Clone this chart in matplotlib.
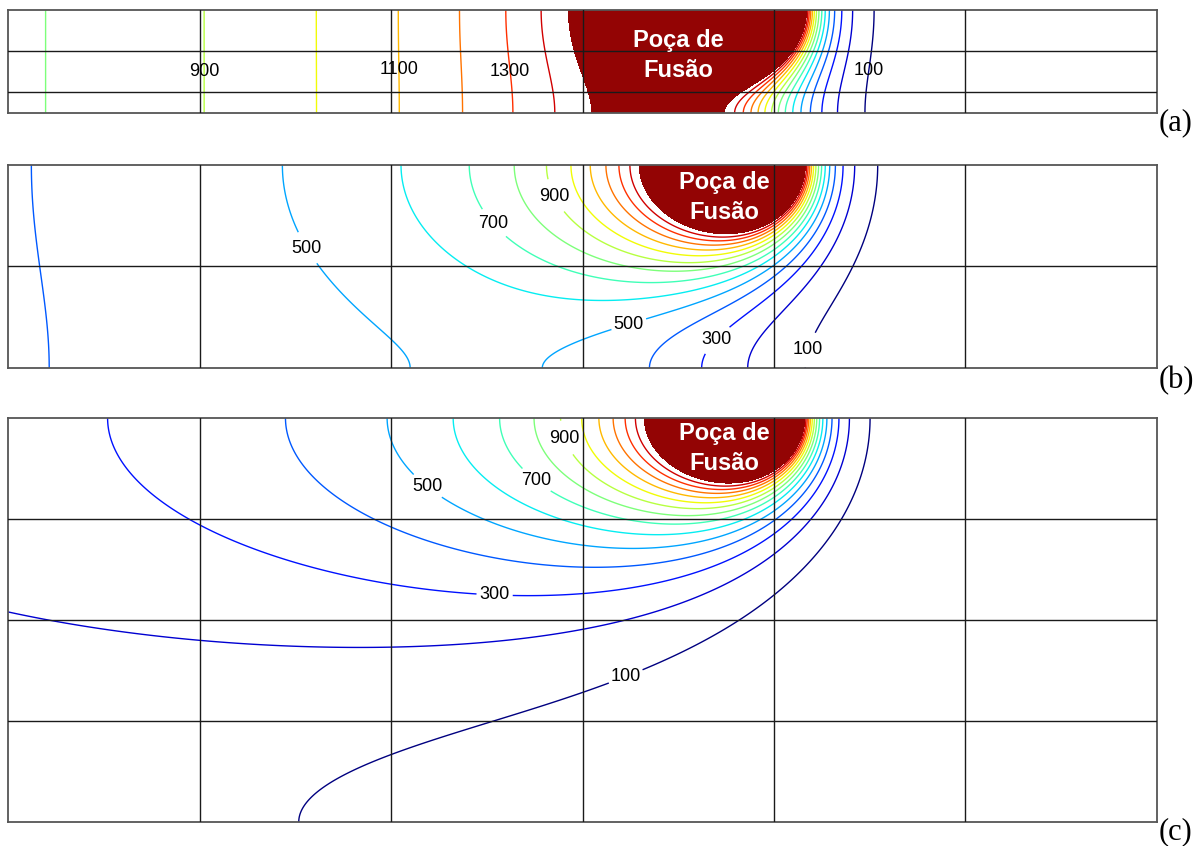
"""
plot.py
=======
Longitudinal sections of the temperature field around a moving weld source
for three plate thicknesses, (a) thin, (b) medium and (c) thick plate.

The isotherms come from a Rosenthal point source moving on the top face,
with image sources for the adiabatic bottom face.  The source parameters
below were adjusted by eye so that the isotherms sit where they sit in the
original figure.
"""

from __future__ import annotations

import numpy as np
import matplotlib

matplotlib.use("Agg")
import matplotlib.pyplot as plt
from matplotlib.colors import Normalize

# ---------------------------------------------------------------------------
# Data

T_AMBIENT = 25.0                                  # deg C
LINE_LEVELS = list(range(100, 1500, 100))         # isotherms drawn as lines
MELT_LEVEL = 1500                                 # filled as the weld pool

panel_tags = ["(a)", "(b)", "(c)"]
thickness_mm = [5.0, 10.0, 20.0]
source_x_mm = [39.6, 39.5, 39.6]
heat_input = [10500.0, 9500.0, 9400.0]            # Q / (2 pi k), K.mm
speed_term = [0.30, 0.26, 0.29]                   # v / (2 alpha), 1/mm

x_grid_mm = [10, 20, 30, 40, 50]
z_grid_mm = [[-2, -4], [-5], [-5, -10, -15]]

label_levels = [
    [900, 1100, 1300, 100],
    [500, 700, 900, 500, 300, 100],
    [900, 500, 700, 300, 100],
]
pool_text = "Poça de\nFusão"

# ---------------------------------------------------------------------------
# Layout (pixels of the 1204 x 846 original)

FIG_W, FIG_H = 1204, 846
PANEL_LEFT, PANEL_RIGHT = 8, 1157
PANEL_TOPS = [10, 165, 418]
PANEL_BOTTOMS = [113, 368, 822]
X_RANGE = (0.0, 60.0)

# where the contour labels sit, data coords (x mm, z mm)
LABEL_SPOTS = [
    [(10.4, -3.0), (20.4, -2.9), (26.2, -3.0), (45.6, -3.0)],
    [(15.6, -4.1), (25.2, -3.0), (28.4, -1.6), (32.5, -8.1), (37.1, -8.7), (41.5, -9.0)],
    [(28.8, -1.1), (21.8, -3.5), (27.4, -3.3), (25.4, -9.0), (32.3, -12.9)],
]
INLINE_LABELS = [False, True, True]
POOL_TEXT_XY = [(35.0, -2.2), (37.4, -1.6), (37.4, -1.5)]
POOL_COLOR = "#930404"
TAG_Y_PX = [123, 381, 832]

plt.rcParams["font.family"] = ["Liberation Sans", "DejaVu Sans"]
jet = plt.get_cmap("jet")
norm = Normalize(vmin=100, vmax=MELT_LEVEL)


def rosenthal_field(x, z, xs, q, lam, d):
    """Temperature on the y=0 section, point source at (xs, 0), plate depth d."""
    xi = x - xs
    n_img = int(np.ceil(100.0 / (2 * d)))
    total = np.zeros_like(x)
    for n in range(-n_img, n_img + 1):
        r = np.sqrt(xi ** 2 + (z - 2 * n * d) ** 2)
        r = np.maximum(r, 0.02)
        total += np.exp(-lam * (xi + r)) / r
    return np.minimum(T_AMBIENT + q * total, 2.0e4)


def draw_panel(ax, i):
    d = thickness_mm[i]
    x = np.linspace(*X_RANGE, 1201)
    z = np.linspace(-d, 0.0, int(d * 40) + 1)
    X, Z = np.meshgrid(x, z)
    T = rosenthal_field(X, Z, source_x_mm[i], heat_input[i], speed_term[i], d)

    ax.contourf(X, Z, T, levels=[MELT_LEVEL, T.max() + 1], colors=[POOL_COLOR], zorder=1)

    # one contour set per level, so each label can be pinned to its own isotherm
    sets = {}
    for lev in LINE_LEVELS:
        sets[lev] = ax.contour(X, Z, T, levels=[lev], colors=[jet(norm(lev))],
                               linewidths=1.0, zorder=2)
    spots = {}
    for lev, spot in zip(label_levels[i], LABEL_SPOTS[i]):
        spots.setdefault(lev, []).append(spot)
    for lev, pts in spots.items():
        texts = sets[lev].clabel(manual=pts, inline=INLINE_LABELS[i], inline_spacing=3,
                                 fmt="%d", fontsize=13, colors="k")
        for t in texts:
            t.set_rotation(0)

    px, pz = POOL_TEXT_XY[i]
    ax.text(px, pz, pool_text, color="white", fontsize=17, fontweight="bold",
            ha="center", va="center", linespacing=1.4, zorder=5)

    ax.set_xlim(*X_RANGE)
    ax.set_ylim(-d, 0.0)
    ax.set_xticks(x_grid_mm)
    ax.set_yticks(z_grid_mm[i])
    ax.tick_params(length=0, labelbottom=False, labelleft=False)
    ax.grid(True, color="#1a1a1a", linewidth=1.0)
    ax.set_axisbelow(False)
    for sp in ax.spines.values():
        sp.set_color("#555555")
        sp.set_linewidth(1.3)


fig = plt.figure(figsize=(FIG_W / 100, FIG_H / 100), dpi=100)
for i in range(3):
    left = PANEL_LEFT / FIG_W
    width = (PANEL_RIGHT - PANEL_LEFT) / FIG_W
    bottom = 1 - PANEL_BOTTOMS[i] / FIG_H
    height = (PANEL_BOTTOMS[i] - PANEL_TOPS[i]) / FIG_H
    ax = fig.add_axes([left, bottom, width, height])
    draw_panel(ax, i)
    fig.text(1159 / FIG_W, 1 - TAG_Y_PX[i] / FIG_H, panel_tags[i], fontsize=22,
             family=["Liberation Serif", "DejaVu Serif"], ha="left", va="center")

fig.savefig("out.png", dpi=100)
